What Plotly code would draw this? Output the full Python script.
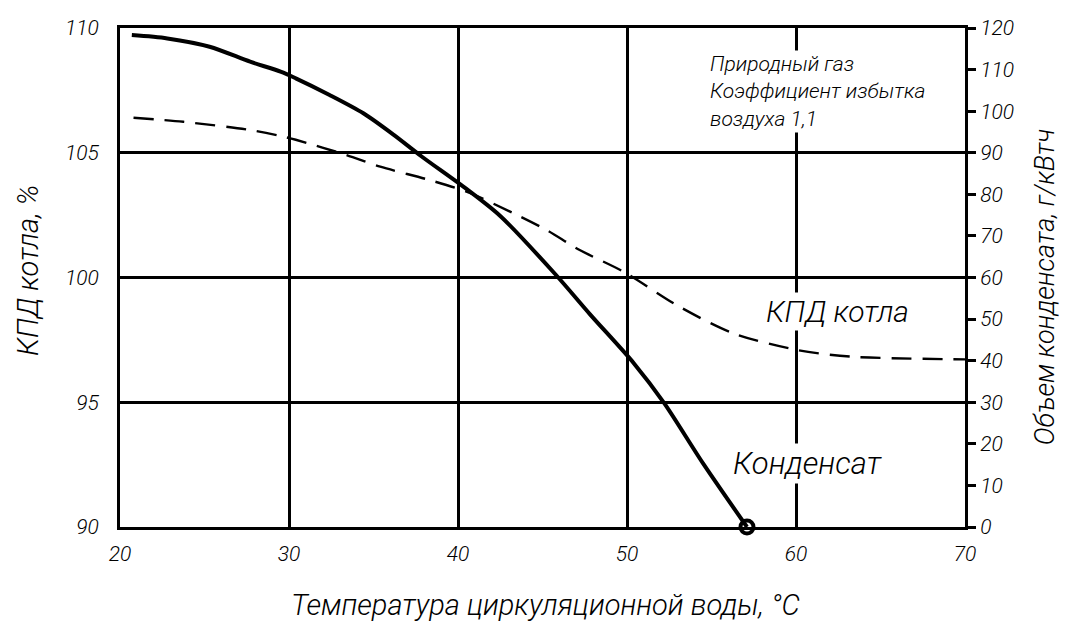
import plotly.graph_objects as go

# Condensate volume, g/kWh (right axis)
cond_t = [20.7, 22.8, 25.3, 27.7, 29.5, 30.4, 32.4, 34.4, 36.2, 37.85, 40.5, 42.5, 45.8, 47.8, 50.4, 52.2, 54.5, 57.1]
cond_v = [118.3, 117.5, 115.5, 111.9, 109.5, 107.9, 103.9, 99.5, 94.3, 89.1, 81.3, 74.8, 60.6, 51.2, 39.4, 29.8, 15.3, 0.0]

# Boiler efficiency, % (left axis)
eff_t = [20.8, 23.75, 27.7, 29.5, 30.4, 33.4, 35.4, 38.3, 40.5, 43.3, 45.25, 47.2, 49.8, 53.1, 56.3, 60.1, 63.2, 70.0]
eff_v = [106.40, 106.24, 105.91, 105.67, 105.52, 104.91, 104.44, 103.91, 103.44, 102.57, 101.90, 101.10, 100.23, 98.83, 97.76, 97.09, 96.83, 96.72]

x_ticks = [20, 30, 40, 50, 60, 70]
left_ticks = [90, 95, 100, 105, 110]
right_ticks = list(range(0, 121, 10))

FONT = "Roboto, Noto Sans, sans-serif"

def f(size, weight=300):
    return dict(family=FONT, size=size, color="black", style="italic", weight=weight)

fig = go.Figure()
fig.add_trace(go.Scatter(x=eff_t, y=eff_v, mode="lines",
                         line=dict(color="black", width=2.4, dash="20px,11px", shape="spline", smoothing=0.8),
                         yaxis="y", showlegend=False))
fig.add_trace(go.Scatter(x=cond_t, y=cond_v, mode="lines",
                         line=dict(color="black", width=4, shape="spline", smoothing=0.8),
                         yaxis="y2", showlegend=False))
fig.add_trace(go.Scatter(x=[cond_t[-1]], y=[cond_v[-1]], mode="markers",
                         marker=dict(symbol="circle-open", size=13, color="black", line=dict(color="black", width=4)),
                         yaxis="y2", showlegend=False, cliponaxis=False))

# The page body has an 8px default margin, so the figure is 8px smaller than the window
fig.update_layout(
    width=1067, height=618,
    margin=dict(l=112, r=110, t=20, b=99),
    plot_bgcolor="white", paper_bgcolor="white",
    xaxis=dict(range=[20, 70], tickvals=x_ticks, showgrid=True, gridcolor="black", gridwidth=3,
               showline=True, linecolor="black", linewidth=3, mirror=True, zeroline=False,
               tickfont=f(21), ticks="", ticklabelstandoff=6, automargin=False),
    yaxis=dict(range=[90, 110], tickvals=left_ticks, showgrid=True, gridcolor="black", gridwidth=3,
               showline=True, linecolor="black", linewidth=3, mirror=True, zeroline=False,
               tickfont=f(21), ticks="", ticklabelstandoff=14, automargin=False),
    yaxis2=dict(range=[0, 120], tickvals=right_ticks, overlaying="y", side="right", showgrid=False,
                showline=True, linecolor="black", linewidth=3, zeroline=False,
                ticks="outside", ticklen=8, tickwidth=3, tickcolor="black", tickfont=f(21),
                ticklabelstandoff=0, automargin=False),
    annotations=[
        dict(x=0.503, y=-0.156, xref="paper", yref="paper", text="Температура циркуляционной воды, °C",
             showarrow=False, xanchor="center", yanchor="middle", font=f(29)),
        dict(x=-0.109, y=0.515, xref="paper", yref="paper", text="КПД котла, %", textangle=-90,
             showarrow=False, xanchor="center", yanchor="middle", font=f(29)),
        dict(x=1.095, y=0.481, xref="paper", yref="paper", text="Объем конденсата, г/кВтч", textangle=-90,
             showarrow=False, xanchor="center", yanchor="middle", font=f(27)),
        dict(x=54.8, y=107.45, xref="x", yref="y", text="Природный газ<br>Коэффициент избытка<br>воздуха 1,1",
             showarrow=False, xanchor="left", yanchor="middle", align="left", font=f(21), bgcolor="white"),
        dict(x=62.45, y=98.65, xref="x", yref="y", text="КПД котла", showarrow=False,
             font=f(30), bgcolor="white"),
        dict(x=60.7, y=92.55, xref="x", yref="y", text="Конденсат", showarrow=False,
             font=f(31), bgcolor="white"),
    ],
)

fig.write_html("out.html")
